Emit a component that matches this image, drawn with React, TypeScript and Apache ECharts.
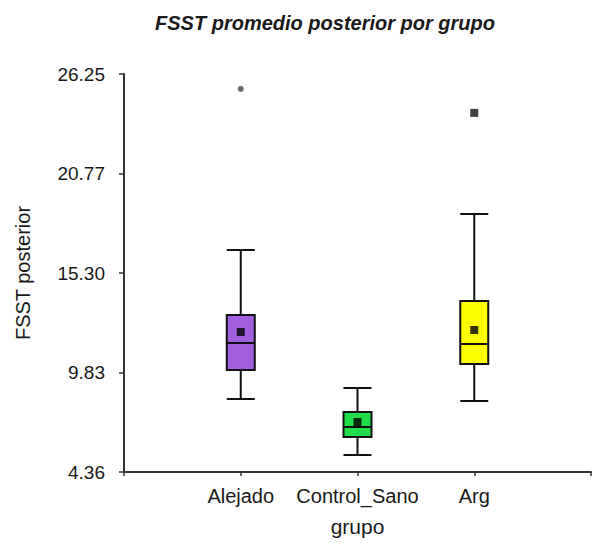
import React, { useEffect, useRef } from "react";
import * as echarts from "echarts";

const categories = ["Alejado", "Control_Sano", "Arg"];
const boxColors = ["#a25fe0", "#22dd4a", "#ffff00"];
const whiskerLow = [8.38, 5.3, 8.26];
const q1 = [9.97, 6.29, 10.3];
const medians = [11.45, 6.84, 11.4];
const q3 = [13.0, 7.66, 13.77];
const whiskerHigh = [16.57, 8.98, 18.55];
const means = [12.06, 7.11, 12.17];
const outlierGroups = ["Alejado", "Arg"];
const outlierValues = [25.43, 24.11];
const yTickLabels = ["4.36", "9.83", "15.30", "20.77", "26.25"];
const yMin = 4.36;
const yMax = 26.25;

const FONT = "'Liberation Sans', Arial, sans-serif";

export default function App() {
  const ref = useRef<HTMLDivElement>(null);
  useEffect(() => {
    if (!ref.current) return;
    const chart = echarts.init(ref.current, null, { renderer: "svg" });
    const pos = (c: string) => categories.indexOf(c) + 1;
    const boxData = categories.map((c, i) => ({
      value: [i + 1, whiskerLow[i], q1[i], medians[i], q3[i], whiskerHigh[i]],
      itemStyle: { color: boxColors[i], borderColor: "#111", borderWidth: 2 },
    }));
    const meanData = categories.map((c, i) => [i + 1, means[i]]);
    const outlierData = outlierGroups.map((g, i) => ({
      value: [pos(g), outlierValues[i]],
      symbol: g === "Arg" ? "rect" : "circle",
      symbolSize: g === "Arg" ? 8 : 6,
      itemStyle: { color: g === "Arg" ? "#111" : "#444" },
    }));
    chart.setOption({
      animation: false,
      backgroundColor: "#ffffff",
      title: {
        text: "FSST promedio posterior por grupo",
        left: 320,
        top: 8,
        textAlign: "center",
        textStyle: {
          fontFamily: FONT,
          fontSize: 20,
          fontWeight: "bold",
          fontStyle: "italic",
          color: "#1a1a1a",
        },
      },
      grid: { left: 124, top: 74, width: 478, height: 398 },
      xAxis: {
        type: "value",
        min: 0,
        max: 4,
        interval: 1,
        name: "grupo",
        nameLocation: "middle",
        nameGap: 44,
        nameTextStyle: { fontFamily: FONT, fontSize: 21, color: "#1a1a1a" },
        splitLine: { show: false },
        axisLine: { lineStyle: { color: "#333", width: 2 } },
        axisTick: { show: true, length: 4, lineStyle: { color: "#333", width: 1.5 } },
        axisLabel: {
          margin: 14,
          fontFamily: FONT,
          fontSize: 20,
          color: "#1a1a1a",
          formatter: (v: number) => categories[v - 1] || "",
        },
      },
      yAxis: [
        {
          type: "value",
          min: 0,
          max: 4,
          interval: 1,
          name: "FSST posterior",
          nameLocation: "middle",
          nameGap: 91,
          nameRotate: 90,
          nameTextStyle: { fontFamily: FONT, fontSize: 20, color: "#1a1a1a" },
          splitLine: { show: false },
          axisLine: { show: true, lineStyle: { color: "#333", width: 2 } },
          axisTick: { show: true, length: 5, lineStyle: { color: "#333", width: 1.5 } },
          axisLabel: {
            margin: 19,
            fontFamily: FONT,
            fontSize: 19,
            color: "#1a1a1a",
            formatter: (v: number) => yTickLabels[v] ?? "",
          },
        },
        {
          type: "value",
          min: yMin,
          max: yMax,
          show: false,
          splitLine: { show: false },
        },
      ],
      series: [
        {
          type: "boxplot",
          yAxisIndex: 1,
          boxWidth: [28, 28],
          data: boxData,
          itemStyle: { borderColor: "#111", borderWidth: 2 },
        },
        {
          type: "scatter",
          yAxisIndex: 1,
          symbol: "rect",
          symbolSize: 8,
          itemStyle: { color: "#000" },
          data: meanData,
          z: 5,
        },
        {
          type: "scatter",
          yAxisIndex: 1,
          data: outlierData,
          z: 5,
        },
      ],
    });
    return () => chart.dispose();
  }, []);
  return (
    <div
      ref={ref}
      style={{ position: "fixed", left: 0, top: 0, width: 594, height: 543 }}
    />
  );
}
